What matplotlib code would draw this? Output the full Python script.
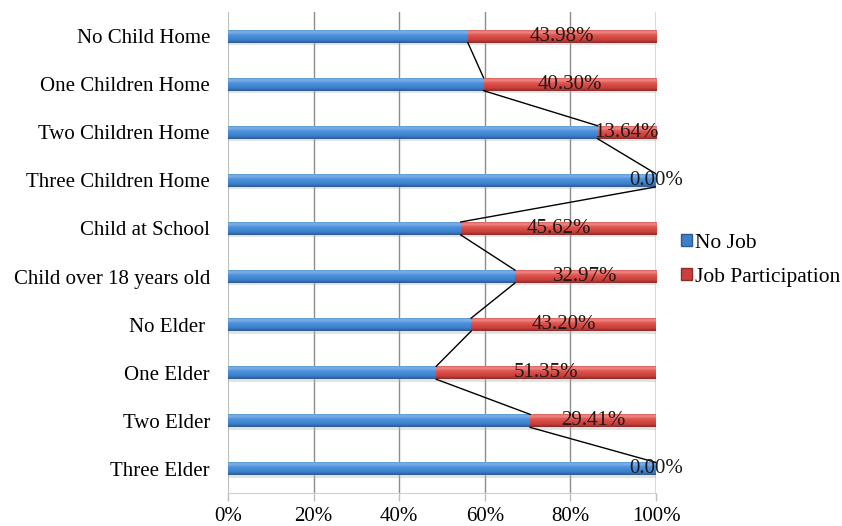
import numpy as np
import matplotlib
matplotlib.use("Agg")
import matplotlib.pyplot as plt
from matplotlib.colors import LinearSegmentedColormap
from matplotlib.patches import Patch

categories = ["No Child Home", "One Children Home", "Two Children Home",
              "Three Children Home", "Child at School", "Child over 18 years old",
              "No Elder ", "One Elder", "Two Elder", "Three Elder"]
job_participation = [43.98, 40.30, 13.64, 0.00, 45.62, 32.97, 43.20, 51.35, 29.41, 0.00]
no_job = [100 - v for v in job_participation]
xticks = [0, 20, 40, 60, 80, 100]

plt.rcParams["font.family"] = ["Liberation Serif", "DejaVu Serif"]
fs = 15

fig = plt.figure(figsize=(8.42, 5.26), dpi=100)
ax = fig.add_axes([0.2708, 0.0627, 0.5083, 0.9145])

n = len(categories)
ypos = np.arange(n)[::-1]   # first category at the top
h = 0.27

# glossy shading, bottom row first
blue_cmap = LinearSegmentedColormap.from_list(
    "blue", [(0, "#2c5a92"), (0.25, "#3f7fc9"), (0.6, "#4a90dc"), (0.85, "#7fb2ea"), (1, "#5d9ad9")])
red_cmap = LinearSegmentedColormap.from_list(
    "red", [(0, "#8f2a28"), (0.25, "#c9403c"), (0.6, "#e0524d"), (0.85, "#f08a84"), (1, "#d9625c")])
grad = np.linspace(0, 1, 64).reshape(-1, 1)

blue_bars = ax.barh(ypos, no_job, height=h, color="#4a90dc", zorder=3)
red_bars = ax.barh(ypos, job_participation, left=no_job, height=h, color="#e0524d", zorder=3)

for bars, cmap in [(blue_bars, blue_cmap), (red_bars, red_cmap)]:
    for p in bars:
        if p.get_width() <= 0:
            continue
        x0, y0 = p.get_x(), p.get_y()
        im = ax.imshow(grad, cmap=cmap, origin="lower", aspect="auto",
                       extent=[x0, x0 + p.get_width(), y0, y0 + p.get_height()], zorder=4)
        im.set_clip_path(p)
        # soft shadow under each bar
        ax.fill_between([x0, x0 + p.get_width()], y0 - 0.05, y0,
                        color="#b0b0b0", alpha=0.35, lw=0, zorder=2)

# series lines between consecutive bars
for i in range(n - 1):
    ax.plot([no_job[i], no_job[i + 1]],
            [ypos[i] - h / 2, ypos[i + 1] + h / 2],
            color="black", lw=1, zorder=5)

for i in range(n):
    cx = no_job[i] + job_participation[i] / 2
    ax.text(cx, ypos[i], f"{job_participation[i]:.2f}%", ha="center", va="center",
            fontsize=fs, color="#1a1a1a", zorder=6)

ax.set_xlim(0, 100)
ax.set_ylim(-0.5, n - 0.5)
ax.set_xticks(xticks)
ax.set_xticklabels([f"{t}%" for t in xticks], fontsize=fs)
ax.set_yticks(ypos)
ax.set_yticklabels(categories, fontsize=fs)
ax.tick_params(axis="y", length=0, pad=13)
ax.tick_params(axis="x", length=6, color="#bfbfbf", width=1, pad=4, direction="out")

for x in xticks[1:]:
    ax.axvline(x, color="#8c8c8c" if x < 100 else "#404040", lw=1, zorder=1)

for s in ["top", "right"]:
    ax.spines[s].set_visible(False)
ax.spines["left"].set_color("#bfbfbf")
ax.spines["bottom"].set_color("#d0d0d0")

handles = [Patch(facecolor="#3f7fc9", edgecolor="#2c5a92", label="No Job"),
           Patch(facecolor="#c9403c", edgecolor="#8f2a28", label="Job Participation")]
fig.legend(handles=handles, loc="center left", bbox_to_anchor=(0.809, 0.505),
           frameon=False, fontsize=15.5, handlelength=0.5, handleheight=0.5,
           handletextpad=0.15, labelspacing=0.7, borderpad=0, borderaxespad=0)

fig.savefig("out.png", dpi=100)
